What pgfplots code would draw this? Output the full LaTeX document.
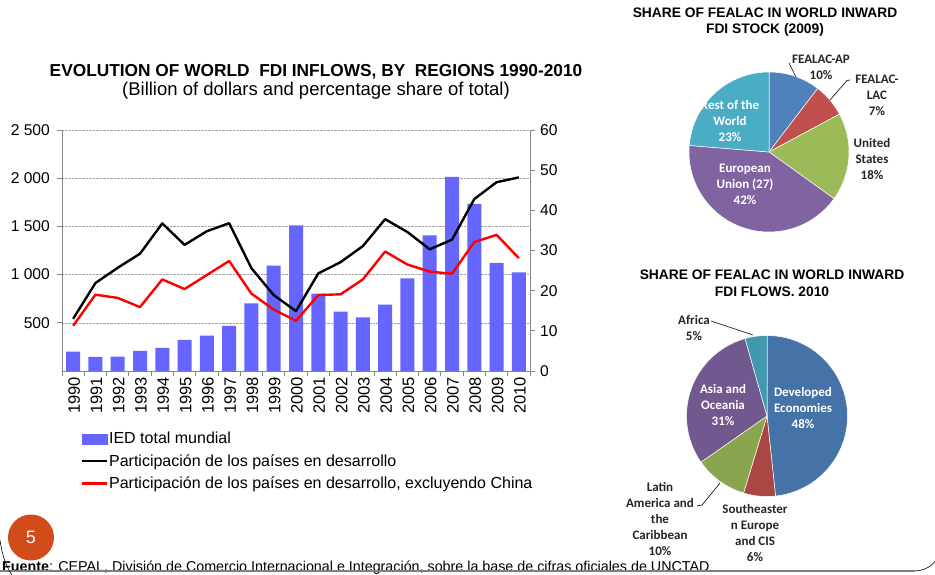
\documentclass[border=0pt]{standalone}
\usepackage{pgfplots}
\pgfplotsset{compat=1.18}
\usepackage{fontspec}
\setmainfont{Liberation Sans}
\newfontfamily\calibri{Carlito}
\definecolor{barblue}{HTML}{6666FF}
\definecolor{axisgray}{HTML}{868686}
\definecolor{gridgray}{HTML}{A0A0A0}
\definecolor{p1blue}{HTML}{4F81BD}
\definecolor{p1red}{HTML}{C0504D}
\definecolor{p1green}{HTML}{9BBB59}
\definecolor{p1purple}{HTML}{8064A2}
\definecolor{p1cyan}{HTML}{4BACC6}
\definecolor{p2blue}{HTML}{4572A7}
\definecolor{p2red}{HTML}{AA4643}
\definecolor{p2green}{HTML}{89A54E}
\definecolor{p2purple}{HTML}{71588F}
\definecolor{p2teal}{HTML}{4198AF}
\definecolor{slideorange}{HTML}{D24B1A}
\begin{document}
\begin{tikzpicture}
\path[use as bounding box, fill=white] (0,0) rectangle (935pt,574pt);

% ---------- main chart titles ----------
\node[font=\bfseries\fontsize{17.3}{20}\selectfont] at (316pt,502pt) {EVOLUTION OF WORLD\ \ FDI INFLOWS, BY\ \ REGIONS 1990-2010};
\node[font=\fontsize{18.5}{20}\selectfont] at (316pt,483pt) {(Billion of dollars and percentage share of total)};

% ---------- bars (left axis) ----------
\begin{axis}[
  at={(62pt,203pt)}, anchor=south west, scale only axis,
  width=468pt, height=241pt,
  xmin=-0.5, xmax=20.5, ymin=0, ymax=2500,
  axis x line*=bottom, axis y line*=left,
  axis line style={draw=axisgray, line width=0.8pt},
  tick style={draw=axisgray, line width=0.8pt},
  tick align=outside, major tick length=5pt,
  ytick={500,1000,1500,2000,2500},
  yticklabels={500,1 000,1 500,2 000,2 500},
  yticklabel style={font=\fontsize{15.6}{16}\selectfont, inner sep=1pt, xshift=-6pt},
  xtick={-0.5,0.5,...,20.5},
  x tick label as interval,
  xticklabels={1990,1991,1992,1993,1994,1995,1996,1997,1998,1999,2000,2001,2002,2003,2004,2005,2006,2007,2008,2009,2010},
  xticklabel style={rotate=90, anchor=east, font=\fontsize{16.5}{17}\selectfont, inner sep=1pt, yshift=-1pt},
  ymajorgrids, grid style={densely dotted, draw=gridgray, line width=0.6pt},
  ybar, bar width=14pt,
]
\addplot[fill=barblue, draw=none] coordinates {
 (0,201) (1,146) (2,149) (3,208) (4,240) (5,323) (6,368) (7,469) (8,701) (9,1094)
 (10,1510) (11,802) (12,615) (13,556) (14,688) (15,962) (16,1406) (17,2014) (18,1733)
 (19,1121) (20,1024)};
\end{axis}

% ---------- lines (right axis) ----------
\begin{axis}[
  at={(62pt,203pt)}, anchor=south west, scale only axis,
  width=468pt, height=241pt,
  xmin=-0.5, xmax=20.5, ymin=0, ymax=60,
  axis x line=none, axis y line*=right,
  axis line style={draw=axisgray, line width=0.8pt},
  tick style={draw=axisgray, line width=0.8pt},
  tick align=outside, major tick length=5pt,
  ytick={0,10,20,30,40,50,60},
  /pgf/number format/assume math mode=true,
  yticklabel style={font=\fontsize{15.6}{16}\selectfont, inner sep=1pt, xshift=4pt},
  legend style={at={(0.04,-0.25)}, anchor=north west, draw=none, fill=none,
    font=\fontsize{16}{18}\selectfont, row sep=7.5pt, inner sep=0pt,
    nodes={inner sep=0.8pt}},
  legend cell align=left,
]
\addlegendimage{legend image code/.code={\fill[barblue] (0pt,-5pt) rectangle (25pt,5pt);}}
\addlegendentry{IED total mundial}
\addplot[black, line width=2.4pt, line join=round,
  legend image code/.code={\draw[black, line width=2.4pt] (0pt,0pt) -- (25pt,0pt);}] coordinates {
 (0,13.0) (1,21.9) (2,25.7) (3,29.2) (4,36.75) (5,31.4) (6,34.8) (7,36.8) (8,25.6) (9,18.9)
 (10,14.9) (11,24.3) (12,27.1) (13,31.1) (14,37.8) (15,34.6) (16,30.3) (17,32.7) (18,42.8)
 (19,47.0) (20,48.2)};
\addlegendentry{Participación de los países en desarrollo}
\addplot[red, line width=2.4pt, line join=round,
  legend image code/.code={\draw[red, line width=2.4pt] (0pt,0pt) -- (25pt,0pt);}] coordinates {
 (0,11.25) (1,19.0) (2,18.2) (3,15.9) (4,22.8) (5,20.4) (6,23.9) (7,27.4) (8,19.25) (9,15.3)
 (10,12.5) (11,18.9) (12,19.1) (13,22.8) (14,29.75) (15,26.5) (16,24.75) (17,24.2) (18,32.1)
 (19,33.9) (20,28.1)};
\addlegendentry{Participación de los países en desarrollo, excluyendo China}
\end{axis}

% ---------- pie 1: FDI stock 2009 ----------
\node[font=\bfseries\fontsize{13.8}{16}\selectfont] at (765pt,561pt) {SHARE OF FEALAC IN WORLD INWARD};
\node[font=\bfseries\fontsize{13.8}{16}\selectfont] at (765pt,544pt) {FDI STOCK (2009)};
\begin{axis}[at={(769pt,422pt)}, anchor=center, scale only axis,
  width=160pt, height=160pt, xmin=-1, xmax=1, ymin=-1, ymax=1, hide axis, clip=false]
% shares (%): FEALAC-AP 10.4, FEALAC-LAC 6.75, United States 17.75, EU 41.4, Rest 23.7
\addplot[fill=p1blue, draw=white, line width=0.5pt, domain=52.56:90, samples=40, variable=\t] ({cos(\t)},{sin(\t)}) -- (axis cs:0,0) -- cycle;
\addplot[fill=p1red, draw=white, line width=0.5pt, domain=28.26:52.56, samples=30, variable=\t] ({cos(\t)},{sin(\t)}) -- (axis cs:0,0) -- cycle;
\addplot[fill=p1green, draw=white, line width=0.5pt, domain=-35.64:28.26, samples=50, variable=\t] ({cos(\t)},{sin(\t)}) -- (axis cs:0,0) -- cycle;
\addplot[fill=p1purple, draw=white, line width=0.5pt, domain=-184.68:-35.64, samples=90, variable=\t] ({cos(\t)},{sin(\t)}) -- (axis cs:0,0) -- cycle;
\addplot[fill=p1cyan, draw=white, line width=0.5pt, domain=-270:-184.68, samples=60, variable=\t] ({cos(\t)},{sin(\t)}) -- (axis cs:0,0) -- cycle;
\end{axis}
\begin{scope}[font=\calibri\bfseries\fontsize{13}{16}\selectfont]
\node[align=center, text=black!85] at (821pt,506.5pt) {FEALAC-AP\\10\%};
\node[align=center, text=black!85] at (877pt,479pt) {FEALAC-\\LAC\\7\%};
\node[align=center, text=black!85] at (872pt,415pt) {United\\States\\18\%};
\node[align=center, text=white] at (730pt,453pt) {Rest of the\\World\\23\%};
\node[align=center, text=white] at (745pt,390pt) {European\\Union (27)\\42\%};
\end{scope}
\draw[black, line width=0.6pt] (789pt,511pt) -- (796pt,497pt);
\draw[black, line width=0.6pt] (850pt,494pt) -- (847pt,493.5pt) -- (830pt,474pt);

% ---------- pie 2: FDI flows 2010 ----------
\node[font=\bfseries\fontsize{13.8}{16}\selectfont] at (772pt,299pt) {SHARE OF FEALAC IN WORLD INWARD};
\node[font=\bfseries\fontsize{13.8}{16}\selectfont] at (772pt,282pt) {FDI FLOWS. 2010};
\begin{axis}[at={(767pt,158pt)}, anchor=center, scale only axis,
  width=161pt, height=161pt, xmin=-1, xmax=1, ymin=-1, ymax=1, hide axis, clip=false]
% shares (%): Developed 48.3, SE Europe & CIS 6.4, LAC 10.6, Asia & Oceania 30.3, Africa 4.4
\addplot[fill=p2blue, draw=white, line width=0.5pt, domain=-83.88:90, samples=100, variable=\t] ({cos(\t)},{sin(\t)}) -- (axis cs:0,0) -- cycle;
\addplot[fill=p2red, draw=white, line width=0.5pt, domain=-106.92:-83.88, samples=20, variable=\t] ({cos(\t)},{sin(\t)}) -- (axis cs:0,0) -- cycle;
\addplot[fill=p2green, draw=white, line width=0.5pt, domain=-145.08:-106.92, samples=30, variable=\t] ({cos(\t)},{sin(\t)}) -- (axis cs:0,0) -- cycle;
\addplot[fill=p2purple, draw=white, line width=0.5pt, domain=-254.16:-145.08, samples=70, variable=\t] ({cos(\t)},{sin(\t)}) -- (axis cs:0,0) -- cycle;
\addplot[fill=p2teal, draw=white, line width=0.5pt, domain=-270:-254.16, samples=15, variable=\t] ({cos(\t)},{sin(\t)}) -- (axis cs:0,0) -- cycle;
\end{axis}
\begin{scope}[font=\calibri\bfseries\fontsize{13}{16}\selectfont]
\node[align=center, text=black!85] at (694pt,246pt) {Africa\\5\%};
\node[align=center, text=white] at (723pt,169pt) {Asia and\\Oceania\\31\%};
\node[align=center, text=white] at (803pt,166pt) {Developed\\Economies\\48\%};
\node[align=center, text=black!85] at (660pt,55pt) {Latin\\America and\\the\\Caribbean\\10\%};
\node[align=center, text=black!85] at (755pt,41.5pt) {Southeaster\\n Europe\\and CIS\\6\%};
\end{scope}
\draw[black, line width=0.6pt] (711pt,253pt) -- (753pt,239pt);
\draw[black, line width=0.6pt] (697pt,68pt) -- (702pt,69pt) -- (720pt,91pt);

% ---------- slide decorations ----------
\node[anchor=west, font=\fontsize{14.3}{15}\selectfont, inner sep=0pt] at (2pt,6pt) {\textbf{Fuente}: CEPAL, División de Comercio Internacional e Integración, sobre la base de cifras oficiales de UNCTAD};
\draw[gray, line width=2.5pt] (0pt,3pt) -- (915pt,3pt);
\draw[black, line width=0.6pt] (915pt,3pt) .. controls (925pt,3.5pt) and (932pt,8pt) .. (936pt,14pt);
\draw[black, line width=0.6pt] (0pt,34pt) .. controls (2pt,19pt) and (6pt,8pt) .. (12pt,-1pt);
\fill[slideorange] (31pt,36.5pt) circle (23pt);
\node[text=white, font=\fontsize{18}{20}\selectfont] at (31pt,36.5pt) {5};
\end{tikzpicture}
\end{document}
